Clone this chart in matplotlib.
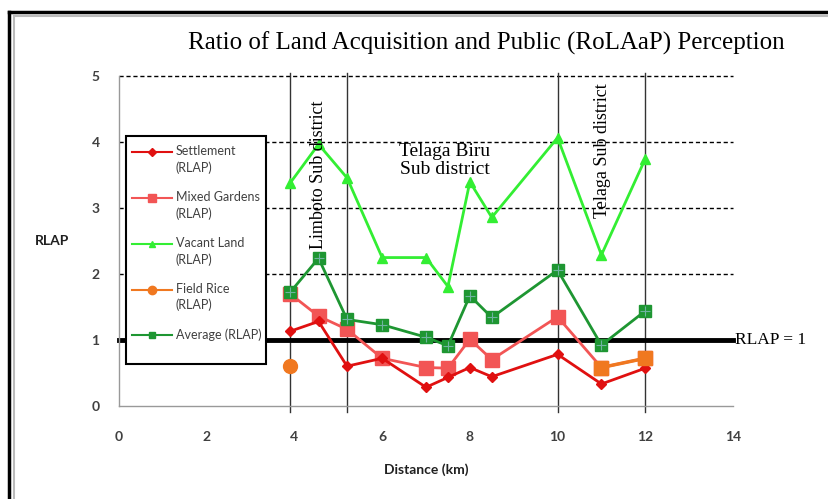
import matplotlib.pyplot as plt
from matplotlib.lines import Line2D
from matplotlib.patches import Rectangle
from matplotlib.transforms import Affine2D

# distances (km) of the sample points
dist = [3.9, 4.55, 5.2, 6, 7, 7.5, 8, 8.5, 10, 11, 12]

settlement = [1.13, 1.28, 0.60, 0.72, 0.28, 0.43, 0.58, 0.44, 0.78, 0.33, 0.57]
mixed_gardens = [1.70, 1.36, 1.16, 0.72, 0.58, 0.57, 1.01, 0.70, 1.35, 0.58, 0.72]
vacant_land = [3.38, 3.97, 3.46, 2.25, 2.25, 1.81, 3.40, 2.86, 4.07, 2.29, 3.75]
average = [1.72, 2.24, 1.31, 1.23, 1.04, 0.91, 1.67, 1.34, 2.06, 0.92, 1.44]

field_rice_x = [3.9]
field_rice_y = [0.60]
# orange points at the end of the mixed gardens line
orange_x = [11, 12]
orange_y = [0.58, 0.72]

boundaries = [3.9, 5.2, 10, 12]

x_ticks = [0, 2, 4, 6, 8, 10, 12, 14]
y_ticks = [0, 1, 2, 3, 4, 5]

c_set = '#E01010'
c_mix = '#F25555'
c_vac = '#33EE33'
c_rice = '#F07820'
c_avg = '#1E9632'

fig = plt.figure(figsize=(8.29, 4.99), dpi=100)
ax = fig.add_axes([119 / 829, 93.3 / 499, 614 / 829, 329.2 / 499])
ax.set_xlim(0, 14)
ax.set_ylim(0, 5)

# dotted gridlines
for yv in [2, 3, 4, 5]:
    ax.plot([0, 14], [yv, yv], color='black', lw=1, ls=(0, (3, 2)), zorder=1, clip_on=False)

# sub district boundaries
for xv in boundaries:
    ax.plot([xv, xv], [-0.1, 5.05], color='#333333', lw=1, clip_on=False, zorder=1)

# RLAP = 1 reference line
ax.plot([0, 14], [1, 1], color='black', lw=3.5, zorder=2, clip_on=False)
ax.text(14.05, 1, 'RLAP = 1', family='Liberation Serif', fontsize=12.5, va='center', ha='left')

ax.plot(dist, vacant_land, color=c_vac, lw=2, marker='^', ms=7, zorder=3)
ax.plot(dist, average, color=c_avg, lw=2, marker='s', ms=9, zorder=4)
ax.plot(dist, average, ls='none', marker='+', ms=7, mew=0.8, color='#6fb3a0', zorder=5)
ax.plot(dist, mixed_gardens, color=c_mix, lw=2, marker='s', ms=10, zorder=3)
ax.plot(dist, settlement, color=c_set, lw=2, marker='D', ms=5, zorder=4)
ax.plot(orange_x, orange_y, color=c_rice, lw=2.5, marker='s', ms=10, zorder=4)
ax.plot(field_rice_x, field_rice_y, color=c_rice, ls='none', marker='o', ms=10, zorder=4)

# annotations
ax.text(4.54, 4.64, 'Limboto Sub district', family='Liberation Serif', fontsize=13,
        rotation=90, ha='center', va='top')
ax.text(7.43, 3.72, 'Telaga Biru\nSub district', family='Liberation Serif', fontsize=14,
        ha='center', va='center', linespacing=1.05)
ax.text(11.03, 4.9, 'Telaga Sub district', family='Liberation Serif', fontsize=13,
        rotation=90, ha='center', va='top')

ax.set_xticks(x_ticks)
ax.set_yticks(y_ticks)
ax.tick_params(length=0, labelsize=10, labelcolor='#404040')
ax.tick_params(axis='x', pad=18)
ax.tick_params(axis='y', pad=14)
for lab in ax.get_xticklabels() + ax.get_yticklabels():
    lab.set_family('Lato')
    lab.set_fontweight('bold')

for side in ['top', 'right']:
    ax.spines[side].set_visible(False)
for side in ['left', 'bottom']:
    ax.spines[side].set_color('#999999')
    ax.spines[side].set_linewidth(1)

fig.text(426 / 829, 1 - 470 / 499, 'Distance (km)', family='Lato', fontweight='bold',
         fontsize=10, color='#202020', ha='center', va='center')
fig.text(52 / 829, 1 - 241 / 499, 'RLAP', family='Lato', fontweight='bold',
         fontsize=10, color='#202020', ha='center', va='center')
fig.text(486 / 829, 1 - 43 / 499, 'Ratio of Land Acquisition and Public (RoLAaP) Perception',
         family='Liberation Serif', fontsize=18, ha='center', va='center')

# legend box drawn by hand so it can be taller than its entries
box = Rectangle((126 / 829, 1 - 364 / 499), 140 / 829, 228 / 499, transform=fig.transFigure,
                facecolor='white', edgecolor='black', lw=1.5, zorder=5.5, clip_on=False)
ax.add_patch(box)

handles = [
    Line2D([], [], color=c_set, lw=1.5, marker='D', ms=4),
    Line2D([], [], color=c_mix, lw=1.5, marker='s', ms=6),
    Line2D([], [], color=c_vac, lw=1.5, marker='^', ms=5),
    Line2D([], [], color=c_rice, lw=1.5, marker='o', ms=6),
    Line2D([], [], color=c_avg, lw=1.5, marker='s', ms=5),
]
labels = ['Settlement\n(RLAP)', 'Mixed Gardens\n(RLAP)', 'Vacant Land\n(RLAP)',
          'Field Rice\n(RLAP)', 'Average (RLAP)']
leg = ax.legend(handles, labels, loc='upper left', bbox_to_anchor=(0.0114, 0.810),
                frameon=False, handlelength=3.2, handletextpad=0.3, labelspacing=1.36,
                borderpad=0.5, borderaxespad=0, prop={'family': 'Lato', 'size': 9})
for t in leg.get_texts():
    t.set_color('#404040')
    t.set_linespacing(1.4)
# put the handles of the two-line entries next to the first line
for ln in leg.get_lines()[:4]:
    ln.set_transform(ln.get_transform() + Affine2D().translate(0, 8))
leg.set_zorder(6)

# outer frame of the picture
fig.add_artist(Line2D([9 / 829, 1.0], [1 - 12 / 499, 1 - 12 / 499], transform=fig.transFigure,
                      color='black', lw=2.5))
fig.add_artist(Line2D([9 / 829, 9 / 829], [0, 1 - 12 / 499], transform=fig.transFigure,
                      color='black', lw=2.5))
fig.add_artist(Line2D([14 / 829, 1.0], [1 - 16 / 499, 1 - 16 / 499], transform=fig.transFigure,
                      color='#bbbbbb', lw=1.5))
fig.add_artist(Line2D([14 / 829, 14 / 829], [0, 1 - 16 / 499], transform=fig.transFigure,
                      color='#bbbbbb', lw=1.5))

fig.savefig('out.png', dpi=100)
